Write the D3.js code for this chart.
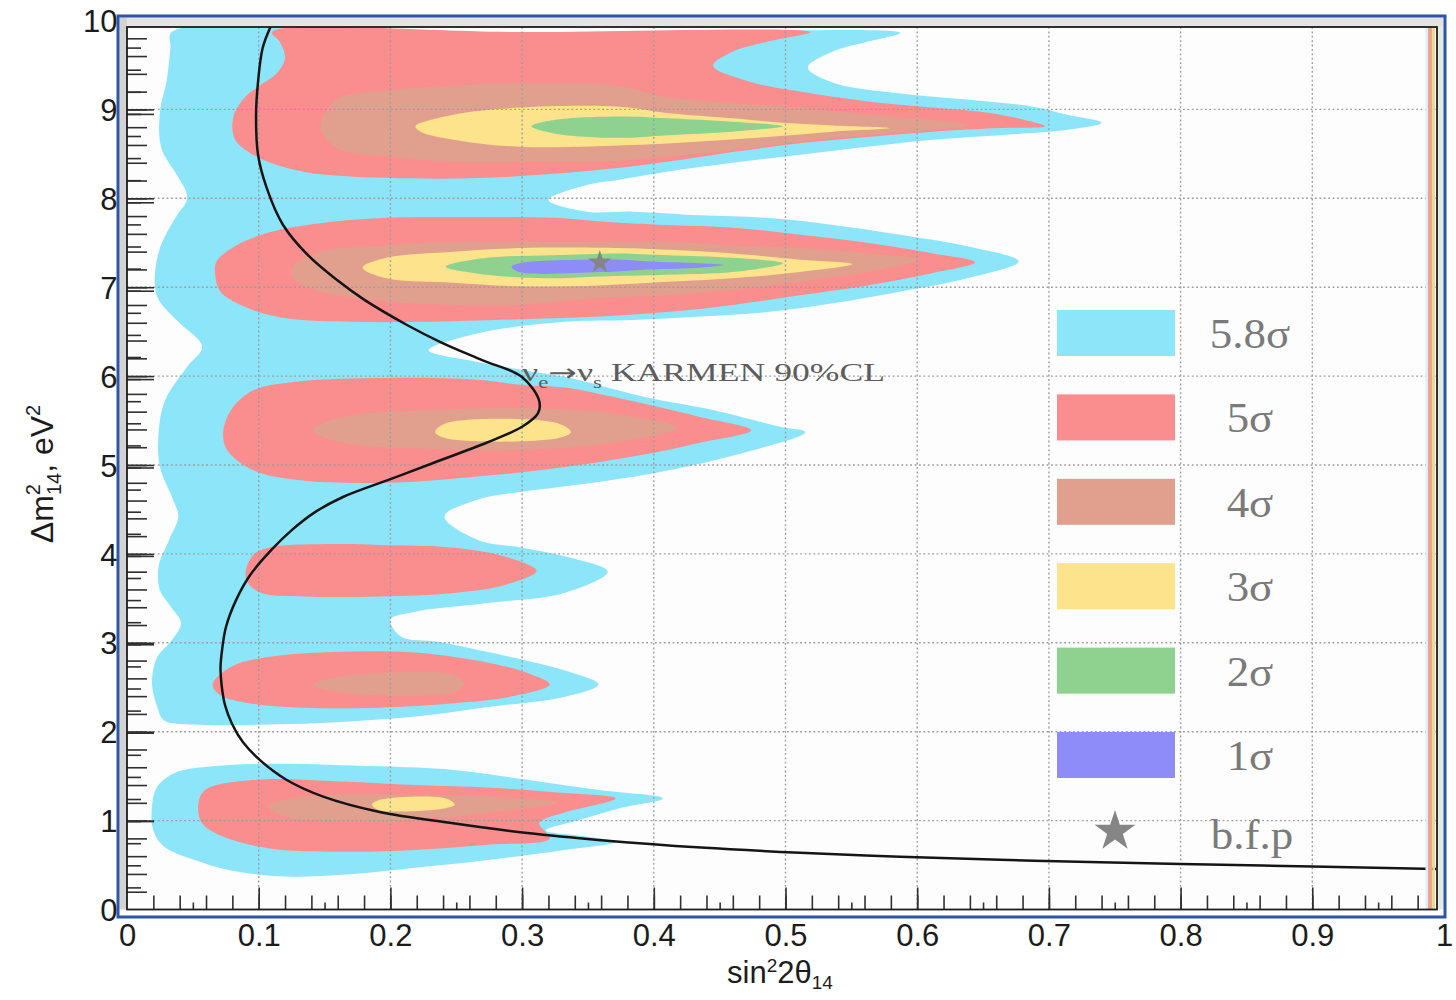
<!DOCTYPE html>
<html>
<head>
<meta charset="utf-8">
<title>sin²2θ14 – Δm²14 allowed regions</title>
<script src="https://cdn.jsdelivr.net/npm/d3@7/dist/d3.min.js"></script>
<style>
  html, body { margin: 0; padding: 0; background: #ffffff; }
  svg { display: block; }
</style>
</head>
<body>
<svg id="chart" width="1456" height="1000"></svg>
<script>
// ---------- data ----------
const levelLabels = ["5.8σ", "5σ", "4σ", "3σ", "2σ", "1σ"];
const levelColors = ["#8de5f9", "#fa8d8d", "#e1a08e", "#fce38c", "#8fd28f", "#8d8cf9"];

// allowed-region outlines, each point is [sin²2θ14, Δm²14 in eV²]
const region5p8 = [
  [[0.034,9.87],[0.2,9.87],[0.4,9.87],[0.587,9.86],[0.562,9.76],[0.536,9.65],[0.517,9.47],[0.536,9.30],[0.587,9.18],
   [0.638,9.11],[0.688,9.03],[0.714,8.94],[0.740,8.85],[0.714,8.77],[0.663,8.71],[0.612,8.66],[0.562,8.58],[0.511,8.49],
   [0.460,8.40],[0.410,8.30],[0.374,8.21],[0.349,8.15],[0.320,7.98],[0.349,7.85],[0.384,7.85],[0.435,7.81],[0.486,7.78],
   [0.536,7.70],[0.587,7.59],[0.638,7.46],[0.677,7.29],[0.638,7.10],[0.587,6.95],[0.536,6.82],[0.486,6.72],[0.435,6.67],
   [0.384,6.63],[0.333,6.61],[0.266,6.48],[0.229,6.29],[0.266,6.16],[0.300,6.07],[0.333,5.99],[0.395,5.76],[0.445,5.62],
   [0.496,5.43],[0.515,5.37],[0.469,5.14],[0.401,4.91],[0.333,4.76],[0.300,4.70],[0.266,4.61],[0.241,4.42],[0.266,4.16],
   [0.300,4.07],[0.333,3.97],[0.365,3.80],[0.332,3.56],[0.276,3.45],[0.219,3.35],[0.200,3.26],[0.208,3.07],[0.237,3.01],
   [0.276,2.89],[0.332,2.69],[0.358,2.53],[0.332,2.39],[0.276,2.28],[0.219,2.17],[0.163,2.11],[0.107,2.08],[0.051,2.08],
   [0.028,2.13],[0.023,2.28],[0.019,2.55],[0.023,2.84],[0.034,3.03],[0.041,3.22],[0.033,3.41],[0.025,3.59],[0.024,3.86],
   [0.032,4.16],[0.039,4.42],[0.035,4.61],[0.025,4.98],[0.024,5.36],[0.029,5.73],[0.046,6.11],[0.057,6.33],[0.039,6.61],
   [0.024,6.86],[0.021,7.06],[0.025,7.44],[0.038,7.81],[0.045,7.96],[0.045,8.07],[0.038,8.26],[0.026,8.57],[0.025,8.97],
   [0.030,9.31],[0.033,9.69]],
  [[0.019,1.16],[0.023,1.38],[0.037,1.54],[0.065,1.61],[0.107,1.64],[0.191,1.61],[0.248,1.57],[0.304,1.46],[0.360,1.34],
   [0.407,1.25],[0.374,1.14],[0.344,1.01],[0.318,0.89],[0.344,0.83],[0.371,0.76],[0.332,0.67],[0.276,0.56],[0.219,0.47],
   [0.163,0.39],[0.121,0.37],[0.079,0.44],[0.051,0.56],[0.028,0.71],[0.020,0.89]]
];

const region5 = [
  [[0.110,9.87],[0.3,9.87],[0.519,9.87],[0.486,9.76],[0.460,9.65],[0.445,9.49],[0.473,9.31],[0.511,9.20],[0.562,9.09],
   [0.612,9.02],[0.663,8.94],[0.697,8.81],[0.663,8.79],[0.612,8.75],[0.562,8.69],[0.511,8.62],[0.460,8.52],[0.410,8.41],
   [0.359,8.32],[0.273,8.23],[0.197,8.23],[0.134,8.30],[0.101,8.45],[0.083,8.64],[0.080,8.79],[0.082,8.97],[0.091,9.16],
   [0.101,9.27],[0.114,9.41],[0.120,9.58],[0.116,9.76]],
  [[0.067,7.14],[0.068,7.29],[0.083,7.47],[0.109,7.62],[0.147,7.72],[0.197,7.78],[0.248,7.79],[0.324,7.78],[0.359,7.74],
   [0.410,7.70],[0.460,7.67],[0.511,7.59],[0.562,7.50],[0.612,7.38],[0.644,7.28],[0.612,7.16],[0.562,7.02],[0.511,6.91],
   [0.460,6.80],[0.410,6.72],[0.359,6.67],[0.300,6.64],[0.223,6.61],[0.172,6.61],[0.121,6.65],[0.091,6.77],[0.071,6.95]],
  [[0.073,5.36],[0.079,5.62],[0.096,5.84],[0.130,5.94],[0.198,5.98],[0.266,5.96],[0.300,5.90],[0.334,5.87],[0.368,5.77],
   [0.401,5.66],[0.435,5.54],[0.474,5.39],[0.435,5.25],[0.401,5.14],[0.334,4.98],[0.266,4.87],[0.198,4.80],[0.130,4.83],
   [0.096,4.94],[0.076,5.17]],
  [[0.090,3.79],[0.096,3.99],[0.107,4.07],[0.164,4.11],[0.191,4.10],[0.248,4.07],[0.287,3.97],[0.311,3.81],[0.287,3.65],
   [0.248,3.56],[0.191,3.52],[0.135,3.52],[0.102,3.56],[0.092,3.67]],
  [[0.065,2.53],[0.079,2.73],[0.107,2.84],[0.163,2.90],[0.219,2.89],[0.276,2.77],[0.304,2.66],[0.321,2.53],[0.290,2.39],
   [0.248,2.32],[0.191,2.27],[0.135,2.27],[0.093,2.32],[0.071,2.41]],
  [[0.054,1.16],[0.059,1.34],[0.099,1.46],[0.163,1.44],[0.219,1.40],[0.276,1.37],[0.332,1.31],[0.371,1.25],[0.332,1.09],
   [0.313,0.97],[0.321,0.80],[0.276,0.73],[0.219,0.67],[0.163,0.65],[0.107,0.69],[0.073,0.82],[0.057,0.97]]
];

const region4 = [
  [[0.147,8.79],[0.159,9.11],[0.197,9.21],[0.248,9.27],[0.298,9.29],[0.374,9.26],[0.410,9.14],[0.460,9.07],[0.511,9.02],
   [0.562,8.94],[0.612,8.88],[0.638,8.82],[0.612,8.77],[0.562,8.71],[0.511,8.64],[0.460,8.54],[0.410,8.47],[0.359,8.41],
   [0.298,8.41],[0.248,8.41],[0.197,8.47],[0.159,8.57]],
  [[0.126,7.23],[0.147,7.40],[0.197,7.47],[0.248,7.51],[0.359,7.51],[0.410,7.51],[0.460,7.47],[0.511,7.44],[0.562,7.38],
   [0.600,7.31],[0.562,7.17],[0.511,7.06],[0.460,6.97],[0.410,6.91],[0.359,6.88],[0.298,6.80],[0.248,6.80],[0.197,6.84],
   [0.147,6.95],[0.126,7.10]],
  [[0.141,5.39],[0.164,5.54],[0.232,5.62],[0.300,5.64],[0.368,5.58],[0.418,5.42],[0.368,5.25],[0.300,5.17],[0.232,5.18],
   [0.164,5.25]],
  [[0.141,2.53],[0.163,2.62],[0.248,2.64],[0.256,2.53],[0.248,2.44],[0.163,2.44]],
  [[0.107,1.16],[0.135,1.27],[0.219,1.29],[0.276,1.27],[0.327,1.20],[0.276,1.09],[0.219,1.01],[0.163,0.99],[0.121,1.04]]
];

const region3 = [
  [[0.219,8.81],[0.248,8.94],[0.298,9.02],[0.374,9.03],[0.410,8.96],[0.460,8.90],[0.498,8.85],[0.536,8.82],[0.579,8.79],
   [0.536,8.75],[0.486,8.69],[0.435,8.64],[0.384,8.60],[0.298,8.58],[0.248,8.66],[0.223,8.75]],
  [[0.179,7.22],[0.197,7.33],[0.248,7.40],[0.298,7.44],[0.374,7.44],[0.410,7.42],[0.460,7.38],[0.511,7.31],[0.551,7.26],
   [0.511,7.17],[0.460,7.10],[0.410,7.06],[0.359,7.02],[0.298,7.01],[0.248,7.05],[0.197,7.10]],
  [[0.234,5.37],[0.242,5.47],[0.327,5.47],[0.337,5.37],[0.327,5.30],[0.242,5.30]],
  [[0.186,1.18],[0.191,1.23],[0.242,1.25],[0.249,1.18],[0.242,1.14],[0.191,1.12]]
];

const region2 = [
  [[0.307,8.81],[0.324,8.88],[0.374,8.92],[0.410,8.90],[0.460,8.86],[0.498,8.81],[0.460,8.75],[0.410,8.71],[0.374,8.68],
   [0.324,8.73]],
  [[0.242,7.23],[0.273,7.33],[0.324,7.36],[0.374,7.38],[0.410,7.36],[0.460,7.33],[0.498,7.27],[0.460,7.17],[0.410,7.14],
   [0.359,7.12],[0.324,7.10],[0.273,7.14]]
];

const region1 = [
  [[0.292,7.23],[0.298,7.27],[0.374,7.31],[0.397,7.29],[0.435,7.27],[0.453,7.25],[0.435,7.22],[0.397,7.20],[0.359,7.17],
   [0.298,7.17]]
];

const regionsByLevel = [region5p8, region5, region4, region3, region2, region1];

// KARMEN nu_e -> nu_s 90% CL exclusion curve
const karmenCurve = [
  [0.109,9.93],[0.103,9.69],[0.0995,9.31],[0.098,8.94],[0.0995,8.49],[0.106,8.12],[0.1185,7.70],[0.1374,7.36],[0.1595,7.08],
  [0.180,6.86],[0.2126,6.575],[0.2384,6.38],[0.2696,6.18],[0.2999,5.99],[0.313,5.72],[0.312,5.58],[0.300,5.43],[0.273,5.25],
  [0.232,5.02],[0.198,4.83],[0.164,4.64],[0.1428,4.47],[0.1253,4.27],[0.110,4.05],[0.0934,3.76],[0.0828,3.48],[0.0752,3.18],
  [0.0721,2.91],[0.0710,2.72],[0.0718,2.53],[0.0744,2.30],[0.0797,2.09],[0.0881,1.88],[0.101,1.68],[0.121,1.46],[0.149,1.27],
  [0.191,1.10],[0.2475,0.97],[0.304,0.86],[0.360,0.78],[0.436,0.697],[0.511,0.638],[0.587,0.593],[0.663,0.559],[0.739,0.532],
  [0.800,0.512],[0.900,0.483],[0.994,0.456]
];

// best fit point
const bestFit = [0.359, 7.28];

const xTickLabels = ["0", "0.1", "0.2", "0.3", "0.4", "0.5", "0.6", "0.7", "0.8", "0.9", "1"];
const yTickLabels = ["0", "1", "2", "3", "4", "5", "6", "7", "8", "9", "10"];

// ---------- layout ----------
const svg = d3.select("#chart");
const frame = { left: 127, top: 27, right: 1437, bottom: 909.5 };

const x = d3.scaleLinear().domain([0, 1]).range([127, 1444]);
const y = d3.scaleLinear().domain([0, 10]).range([909.5, 20.5]);
// secondary vertical axis of the overlaid frame (slightly different span)
const y2 = d3.scaleLinear().domain([0, 10]).range([909.5, 25.5]);

svg.append("rect").attr("width", 1456).attr("height", 1000).attr("fill", "#ffffff");

// shaded margin between the outer border and the axis frame
svg.append("rect").attr("x", 119.5).attr("y", 17.5).attr("width", 1324).attr("height", 9.5).attr("fill", "#e4e4e4");
svg.append("rect").attr("x", 119.5).attr("y", 17.5).attr("width", 7.5).attr("height", 892).attr("fill", "#d3d3d3");
svg.append("rect").attr("x", 1437).attr("y", 27).attr("width", 6.5).attr("height", 882.5).attr("fill", "#e3ece3");

// plot background
svg.append("rect")
  .attr("x", frame.left).attr("y", frame.top)
  .attr("width", frame.right - frame.left).attr("height", frame.bottom - frame.top)
  .attr("fill", "#fdfdfd");

svg.append("clipPath").attr("id", "plotClip")
  .append("rect")
  .attr("x", frame.left).attr("y", frame.top)
  .attr("width", frame.right - frame.left).attr("height", frame.bottom - frame.top);

const plot = svg.append("g").attr("clip-path", "url(#plotClip)");

// filled confidence regions, outermost first
const areaPath = d3.line()
  .x(d => x(d[0])).y(d => y(d[1]))
  .curve(d3.curveCatmullRomClosed.alpha(0.5));

regionsByLevel.forEach((islands, i) => {
  plot.append("g")
    .selectAll("path")
    .data(islands)
    .join("path")
    .attr("d", areaPath)
    .attr("fill", levelColors[i])
    .attr("stroke", "none");
});

// dotted grid
const gridColor = "#9c9c9c";
const xGridValues = d3.range(1, 10).map(i => i / 10);
const yGridValues = d3.range(1, 10);

plot.append("g")
  .selectAll("line")
  .data(xGridValues)
  .join("line")
  .attr("x1", d => x(d)).attr("x2", d => x(d))
  .attr("y1", frame.top).attr("y2", frame.bottom)
  .attr("stroke", gridColor).attr("stroke-width", 1.4).attr("stroke-dasharray", "1.8 2.6");

plot.append("g")
  .selectAll("line")
  .data(yGridValues)
  .join("line")
  .attr("x1", frame.left).attr("x2", frame.right)
  .attr("y1", d => y(d)).attr("y2", d => y(d))
  .attr("stroke", gridColor).attr("stroke-width", 1.4).attr("stroke-dasharray", "1.8 2.6");

// KARMEN exclusion curve
plot.append("path")
  .datum(karmenCurve)
  .attr("d", d3.line().x(d => x(d[0])).y(d => y(d[1])).curve(d3.curveCatmullRom.alpha(0.5)))
  .attr("fill", "none")
  .attr("stroke", "#151515")
  .attr("stroke-width", 2.5)
  .attr("stroke-linejoin", "round");

// best fit point
plot.append("path")
  .attr("transform", `translate(${x(bestFit[0])},${y(bestFit[1])})`)
  .attr("d", d3.symbol(d3.symbolStar, 170)())
  .attr("fill", "#858585");

// curve label
const serif = "'Liberation Serif', 'Times New Roman', serif";
const karmenLabel = svg.append("g");
const kt = karmenLabel.append("text")
  .attr("font-family", serif)
  .attr("font-size", 25)
  .attr("fill", "#5c5c5c");
kt.append("tspan").text("ν");
kt.append("tspan").attr("font-size", 16).attr("dy", 7).text("e");
kt.append("tspan").attr("dy", -7).attr("font-family", "'DejaVu Sans', sans-serif").attr("font-size", 24).text("→");
kt.append("tspan").text("ν");
kt.append("tspan").attr("font-size", 16).attr("dy", 7).text("s");
kt.append("tspan").attr("dy", -7).text(" KARMEN 90%CL");
const ktWidth = kt.node().getBBox().width;
karmenLabel.attr("transform", `translate(${x(0.3)},${y(5.94)}) scale(${363 / ktWidth},1)`);

// palette strip along the right edge
const strip = [
  { x0: 1425.5, x1: 1428, c: "#d7f1fb" },
  { x0: 1428, x1: 1432.5, c: "#efa28e" },
  { x0: 1432.5, x1: 1435, c: "#e9dc86" }
];
svg.append("g").selectAll("rect").data(strip).join("rect")
  .attr("x", d => d.x0).attr("width", d => d.x1 - d.x0)
  .attr("y", frame.top).attr("height", frame.bottom - frame.top)
  .attr("fill", d => d.c);

// ---------- legend ----------
const legend = svg.append("g");
const legendTop = 310, rowStep = 84.4, boxW = 118, boxH = 46, boxX = 1057, labelX = 1250;
levelLabels.forEach((lab, i) => {
  const ty = legendTop + i * rowStep;
  legend.append("rect").attr("x", boxX).attr("y", ty).attr("width", boxW).attr("height", boxH)
    .attr("fill", levelColors[i]);
  legend.append("text")
    .attr("transform", `translate(${labelX},${ty + boxH / 2 + 15}) scale(1.07,1)`)
    .attr("text-anchor", "middle")
    .attr("font-family", serif)
    .attr("font-size", 42).attr("fill", "#7a7a7a")
    .text(lab);
});
const starRowY = legendTop + levelLabels.length * rowStep + boxH / 2 - 8;
legend.append("path")
  .attr("transform", `translate(${boxX + boxW / 2 - 1},${starRowY})`)
  .attr("d", d3.symbol(d3.symbolStar, 520)())
  .attr("fill", "#858585");
legend.append("text")
  .attr("transform", `translate(${labelX + 2},${starRowY + 18}) scale(1.07,1)`)
  .attr("text-anchor", "middle")
  .attr("font-family", serif)
  .attr("font-size", 42).attr("fill", "#7a7a7a")
  .text("b.f.p");

// ---------- ticks ----------
const tickColor = "#303030";
function styleTicks(g) {
  g.select(".domain").remove();
  g.selectAll(".tick line").attr("stroke", tickColor).attr("stroke-width", 1.6);
  g.selectAll(".tick text").remove();
}
const xMinor = d3.range(1, 50).map(i => +(i * 0.02).toFixed(2)).filter(v => x(v) < frame.right - 3);
const xMajor = d3.range(1, 10).map(i => i / 10);
const xHalf = d3.range(0, 10).map(i => +(i * 0.1 + 0.05).toFixed(2));

svg.append("g").attr("transform", `translate(0,${frame.bottom})`)
  .call(d3.axisBottom(x).tickValues(xMinor).tickSize(-14).tickFormat("")).call(styleTicks);
svg.append("g").attr("transform", `translate(0,${frame.bottom})`)
  .call(d3.axisBottom(x).tickValues(xMajor).tickSize(-22).tickFormat("")).call(styleTicks);
svg.append("g").attr("transform", `translate(0,${frame.bottom})`)
  .call(d3.axisBottom(x).tickValues(xHalf).tickSize(-7).tickFormat("")).call(styleTicks);

const yMinorA = d3.range(1, 50).map(i => +(i * 0.2).toFixed(1));
const yMinorB = d3.range(1, 40).map(i => i * 0.25);
const yMajor = d3.range(1, 10);

svg.append("g").attr("transform", `translate(${frame.left},0)`)
  .call(d3.axisLeft(y).tickValues(yMinorA).tickSize(-20).tickFormat("")).call(styleTicks);
svg.append("g").attr("transform", `translate(${frame.left},0)`)
  .call(d3.axisLeft(y2).tickValues(yMinorB).tickSize(-14).tickFormat("")).call(styleTicks);
svg.append("g").attr("transform", `translate(${frame.left},0)`)
  .call(d3.axisLeft(y).tickValues(yMajor).tickSize(-27).tickFormat("")).call(styleTicks);
svg.append("g").attr("transform", `translate(${frame.left},0)`)
  .call(d3.axisLeft(y2).tickValues(yMajor).tickSize(-27).tickFormat("")).call(styleTicks);

// axis frame
svg.append("rect")
  .attr("x", frame.left).attr("y", frame.top)
  .attr("width", frame.right - frame.left).attr("height", frame.bottom - frame.top)
  .attr("fill", "none").attr("stroke", "#1c1c1c").attr("stroke-width", 1.8);

// outer border
svg.append("rect")
  .attr("x", 118).attr("y", 16).attr("width", 1327).attr("height", 901)
  .attr("fill", "none").attr("stroke", "#2d55a7").attr("stroke-width", 3);

// ---------- tick labels ----------
const labelFont = "'Liberation Sans', Arial, Helvetica, sans-serif";
const xLabelAxis = svg.append("g").attr("transform", `translate(0,${frame.bottom})`)
  .call(d3.axisBottom(x).tickValues(xTickLabels.map(Number)).tickSize(0)
    .tickFormat((d, i) => xTickLabels[i]));
xLabelAxis.select(".domain").remove();
xLabelAxis.selectAll(".tick text")
  .attr("y", 36.5).attr("dy", null)
  .attr("font-family", labelFont).attr("font-size", 31).attr("fill", "#1c1c1c");

const yLabelAxis = svg.append("g").attr("transform", "translate(117.5,0)")
  .call(d3.axisLeft(y).tickValues(yTickLabels.map(Number)).tickSize(0)
    .tickFormat((d, i) => yTickLabels[i]));
yLabelAxis.select(".domain").remove();
yLabelAxis.selectAll(".tick text")
  .attr("x", 0).attr("dy", "0.36em")
  .attr("font-family", labelFont).attr("font-size", 31).attr("fill", "#1c1c1c");

// ---------- axis titles ----------
const xt = svg.append("text")
  .attr("x", 780).attr("y", 983).attr("text-anchor", "middle")
  .attr("font-family", labelFont).attr("font-size", 31).attr("fill", "#1c1c1c");
xt.append("tspan").text("sin");
xt.append("tspan").attr("font-size", 19).attr("dy", -11).text("2");
xt.append("tspan").attr("dy", 11).text("2θ");
xt.append("tspan").attr("font-size", 19).attr("dy", 6).text("14");

const yt = svg.append("text")
  .attr("transform", "translate(53,474) rotate(-90)").attr("text-anchor", "middle")
  .attr("font-family", labelFont).attr("font-size", 32).attr("fill", "#1c1c1c");
yt.append("tspan").text("Δm");
yt.append("tspan").attr("font-size", 20).attr("dy", -13).text("2");
yt.append("tspan").attr("font-size", 20).attr("dx", -11).attr("dy", 21).text("14");
yt.append("tspan").attr("dy", -8).text(", eV");
yt.append("tspan").attr("font-size", 20).attr("dy", -13).text("2");
</script>
</body>
</html>
